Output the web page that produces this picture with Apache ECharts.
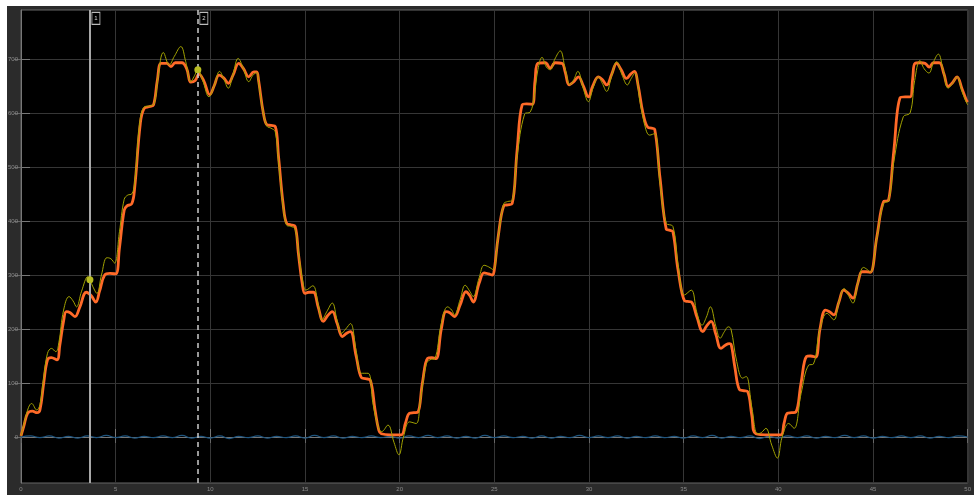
<!DOCTYPE html>
<html><head><meta charset="utf-8">
<script src="https://cdn.jsdelivr.net/npm/echarts@6/dist/echarts.min.js"></script>
<style>html,body{margin:0;padding:0;background:#fff}#c{width:974px;height:495px}</style>
</head><body><div id="c"></div>
<script>
// Orange (thick) signal: [time, value]
const orangeSignal = [
[0,2],[0.15,20],[0.35,44],[0.6,48],[0.85,45],[1.0,50],[1.2,100],[1.4,143],[1.6,147],[1.9,143],
[2.05,170],[2.25,215],[2.4,232],[2.6,230],[2.85,223],[3.1,240],[3.45,268],[3.7,262],[3.95,250],[4.15,270],
[4.42,300],[4.7,303],[5.0,302],[5.2,350],[5.45,420],[5.6,428],[5.85,432],[6.0,460],[6.3,580],[6.5,608],
[6.8,612],[7.0,615],[7.2,660],[7.4,692],[7.7,692],[7.92,686],[8.15,693],[8.5,693],[8.75,682],[8.97,657],
[9.2,660],[9.4,672],[9.65,660],[9.97,634],[10.2,650],[10.46,670],[10.7,665],[10.95,655],[11.2,670],[11.5,692],
[11.75,682],[12.03,667],[12.3,676],[12.45,676],[12.55,660],[12.8,600],[13.0,578],[13.2,577],[13.43,575],[13.6,520],
[13.85,430],[14.04,395],[14.25,393],[14.48,390],[14.65,340],[14.85,285],[15.0,266],[15.2,268],[15.44,268],[15.7,240],
[15.97,214],[16.2,225],[16.44,232],[16.7,210],[16.98,186],[17.2,192],[17.4,195],[17.7,150],[17.98,110],[18.2,108],
[18.45,105],[18.7,50],[18.9,12],[19.03,6],[19.5,4],[20.08,4],[20.3,25],[20.52,44],[20.75,45],[20.96,46],
[21.2,100],[21.48,146],[21.7,147],[21.92,145],[22.2,200],[22.45,232],[22.65,230],[22.89,223],[23.2,245],[23.5,269],
[23.7,262],[23.88,250],[24.2,285],[24.46,304],[24.7,302],[24.9,300],[25.0,310],[25.2,370],[25.5,428],[25.7,430],
[25.94,432],[26.2,530],[26.47,615],[26.7,617],[27.0,616],[27.15,660],[27.3,692],[27.69,693],[27.95,683],[28.22,693],
[28.57,692],[28.75,675],[28.95,652],[29.2,658],[29.44,667],[29.7,650],[29.97,630],[30.2,650],[30.49,667],[30.7,662],
[30.93,652],[31.2,672],[31.46,692],[31.7,680],[31.98,664],[32.2,672],[32.39,677],[32.6,650],[32.85,600],[33.12,573],
[33.3,572],[33.47,570],[33.75,480],[34.08,385],[34.25,383],[34.43,380],[34.7,310],[35.05,252],[35.2,251],[35.4,250],
[35.7,222],[36.01,195],[36.2,205],[36.45,214],[36.7,190],[36.97,164],[37.2,170],[37.41,173],[37.5,172],[37.7,130],
[37.94,88],[38.15,86],[38.38,84],[38.6,40],[38.81,6],[39.5,4],[40.13,4],[40.3,25],[40.48,44],[40.7,45],
[40.92,46],[41.2,100],[41.49,149],[41.7,150],[41.97,148],[42.2,200],[42.49,235],[42.7,232],[42.93,226],[43.2,250],
[43.45,272],[43.7,266],[43.94,257],[44.2,285],[44.42,306],[44.65,306],[44.86,305],[45.2,370],[45.56,436],[45.7,437],
[45.82,438],[46.1,530],[46.43,628],[46.7,630],[46.96,630],[47.1,665],[47.22,692],[47.5,693],[47.75,692],[47.97,685],
[48.2,693],[48.5,693],[48.75,672],[48.97,649],[49.2,656],[49.44,667],[49.7,645],[49.93,624],[50.0,620]
];
// Yellow (thin) signal: [time, value]
const yellowSignal = [
[0,2],[0.2,30],[0.4,55],[0.56,62],[0.83,50],[1.0,60],[1.2,110],[1.4,155],[1.61,164],[1.84,158],
[2.0,175],[2.25,235],[2.54,260],[2.75,252],[2.93,241],[3.2,270],[3.54,297],[3.64,291],[3.8,278],[4.01,266],
[4.25,300],[4.54,332],[4.75,330],[4.94,322],[5.2,380],[5.45,440],[5.64,448],[5.85,450],[6.0,470],[6.3,590],
[6.55,612],[6.8,613],[7.04,618],[7.25,670],[7.52,712],[7.83,689],[8.1,705],[8.44,723],[8.7,695],[8.97,658],
[9.15,668],[9.34,680],[9.6,660],[9.93,630],[10.2,650],[10.49,677],[10.7,664],[10.95,646],[11.2,672],[11.47,701],
[11.75,682],[12.03,658],[12.25,670],[12.45,675],[12.55,655],[12.8,600],[13.0,575],[13.2,572],[13.43,565],[13.6,510],
[13.85,425],[14.04,392],[14.25,390],[14.48,385],[14.7,330],[14.9,285],[15.05,272],[15.41,280],[15.7,245],[15.9,217],
[16.15,232],[16.44,248],[16.7,215],[16.93,192],[17.15,200],[17.4,210],[17.7,160],[17.98,118],[18.33,118],[18.6,60],
[18.9,15],[19.05,10],[19.38,22],[19.7,-10],[19.96,-33],[20.2,0],[20.52,28],[20.87,25],[21.1,70],[21.4,135],
[21.6,143],[21.85,145],[22.2,210],[22.53,241],[22.75,235],[22.89,226],[23.2,255],[23.46,281],[23.7,270],[23.88,260],
[24.2,295],[24.46,318],[24.7,315],[24.93,310],[25.2,370],[25.5,432],[25.7,436],[25.94,438],[26.2,520],[26.6,598],
[26.9,602],[27.1,630],[27.3,680],[27.52,703],[27.75,685],[27.95,680],[28.2,700],[28.48,715],[28.75,680],[29.0,652],
[29.2,662],[29.41,677],[29.7,645],[29.97,621],[30.2,645],[30.49,667],[30.7,655],[30.93,640],[31.2,670],[31.46,695],
[31.75,670],[32.03,652],[32.2,662],[32.42,674],[32.7,620],[33.0,570],[33.2,559],[33.47,562],[33.75,470],[34.08,396],
[34.43,390],[34.7,320],[35.05,263],[35.4,272],[35.7,230],[35.97,207],[36.2,222],[36.41,241],[36.7,205],[36.93,183],
[37.15,195],[37.36,204],[37.5,200],[37.8,140],[38.11,109],[38.3,112],[38.6,55],[38.9,6],[39.1,8],[39.34,16],
[39.65,-15],[39.95,-39],[40.2,0],[40.55,25],[40.83,16],[41.2,80],[41.6,133],[41.85,135],[42.2,200],[42.57,229],
[42.93,217],[43.2,250],[43.48,275],[43.7,262],[43.94,248],[44.2,285],[44.5,314],[44.7,310],[44.86,305],[45.2,368],
[45.56,433],[45.82,437],[46.1,510],[46.6,593],[46.96,600],[47.2,660],[47.48,697],[47.7,682],[47.95,674],[48.2,695],
[48.45,709],[48.7,680],[48.97,646],[49.2,655],[49.44,667],[49.7,640],[49.93,620],[50,615]
];
// Blue (error) signal, sampled every 0.5 s
const blueStep = 0.5;
const blueValues = [
0,2,-1,2,-2,1,-2,2,-1,3,
-1,2,-2,1,-1,2,-1,3,-2,1,
-2,2,-3,1,-1,2,-2,1,-1,2,
-2,3,-1,2,-2,1,-1,2,-1,1,
-2,2,-1,3,-1,2,-2,1,-2,3,
-1,2,-1,1,-2,2,-2,1,-1,3,
-1,2,-1,2,-2,1,-1,2,-1,1,
-2,2,-1,3,-2,1,-1,2,-3,1,
-2,2,-1,2,-2,1,-1,3,-1,2,
-2,1,-1,2,-1,2,-2,1,-1,2,
0];
const xTicks = [0,5,10,15,20,25,30,35,40,45,50];
const yTicks = [0,100,200,300,400,500,600,700];
const cursorTimes = [3.64, 9.34];
const cursorNames = ['1','2'];
const cursorValues = [291, 680];

const chart = echarts.init(document.getElementById('c'), null, {renderer:'canvas'});
const gridColor = '#363636';
const labelColor = '#8c8c8c';
const option = {
  backgroundColor: '#2b2b2b',
  animation: false,
  graphic: [
    {type:'rect', left:0, top:0, shape:{width:974, height:6}, style:{fill:'#ffffff'}, z:100},
    {type:'rect', left:0, top:0, shape:{width:7, height:495}, style:{fill:'#ffffff'}, z:100}
  ],
  grid: {left:21, right:2, top:10, bottom:12, show:true, backgroundColor:'#000000', borderColor:'#666666', borderWidth:1},
  xAxis: [{
    type:'value', min:0, max:50, interval:5,
    axisLine:{show:true, lineStyle:{color:'#777777'}},
    axisTick:{show:true, inside:true, length:8, lineStyle:{color:'#777777'}},
    axisLabel:{color:labelColor, fontSize:6, margin:3, fontFamily:'Liberation Sans', customValues: xTicks},
    splitLine:{show:true, lineStyle:{color:gridColor, width:1}}
  },{
    type:'value', min:0, max:50, interval:5, position:'top',
    axisLine:{show:false}, axisTick:{show:true, inside:true, length:6, lineStyle:{color:'#666666'}},
    axisLabel:{show:false}, splitLine:{show:false}
  }],
  yAxis: [{
    type:'value', min:-85.2, max:790.7,
    axisLine:{show:true, lineStyle:{color:'#777777'}},
    axisTick:{show:true, inside:true, length:9, lineStyle:{color:'#777777'}, customValues: yTicks},
    axisLabel:{color:labelColor, fontSize:6, margin:3, fontFamily:'Liberation Sans', customValues: yTicks},
    splitLine:{show:true, lineStyle:{color:gridColor, width:1}}
  },{
    type:'value', min:-85.2, max:790.7, position:'right',
    axisLine:{show:false},
    axisTick:{show:true, inside:true, length:7, lineStyle:{color:'#666666'}, customValues: yTicks},
    axisLabel:{show:false, customValues: yTicks}, splitLine:{show:false}
  }],
  series: [
    {
      type:'line', name:'blue', data: blueValues.map((v,i)=>[i*blueStep, v]),
      showSymbol:false, smooth:true, lineStyle:{color:'#1f5680', width:1.2}, z:2
    },
    {
      type:'line', name:'orange', data: orangeSignal,
      showSymbol:false, smooth:0.4, lineStyle:{color:'#ff6a28', width:2.8}, z:3
    },
    {
      type:'line', name:'yellow', data: yellowSignal,
      showSymbol:false, smooth:0.4, lineStyle:{color:'#a2a200', width:1}, z:4,
      markLine: {
        silent:true, symbol:['none','none'], animation:false,
        label:{show:false},
        data: [
          {xAxis: cursorTimes[0], lineStyle:{color:'#a8a8a8', width:2, type:'solid'}},
          {xAxis: cursorTimes[1], lineStyle:{color:'#cccccc', width:1.5, type:[5,4]}}
        ]
      },
      markPoint: {
        silent:true, animation:false,
        data: [
          {coord:[cursorTimes[0], cursorValues[0]], symbol:'circle', symbolSize:7, itemStyle:{color:'#b8bc20'}, label:{show:false}},
          {coord:[cursorTimes[1], cursorValues[1]], symbol:'circle', symbolSize:7, itemStyle:{color:'#b8bc20'}, label:{show:false}},
          {coord:[cursorTimes[0], 775], symbol:'rect', symbolSize:[8,12], symbolOffset:[6,0],
            itemStyle:{color:'#000000', borderColor:'#bbbbbb', borderWidth:1},
            label:{show:true, formatter: cursorNames[0], color:'#dddddd', fontSize:6, position:'inside'}},
          {coord:[cursorTimes[1], 775], symbol:'rect', symbolSize:[8,12], symbolOffset:[6,0],
            itemStyle:{color:'#000000', borderColor:'#bbbbbb', borderWidth:1},
            label:{show:true, formatter: cursorNames[1], color:'#dddddd', fontSize:6, position:'inside'}}
        ]
      }
    }
  ]
};
chart.setOption(option);
</script></body></html>
